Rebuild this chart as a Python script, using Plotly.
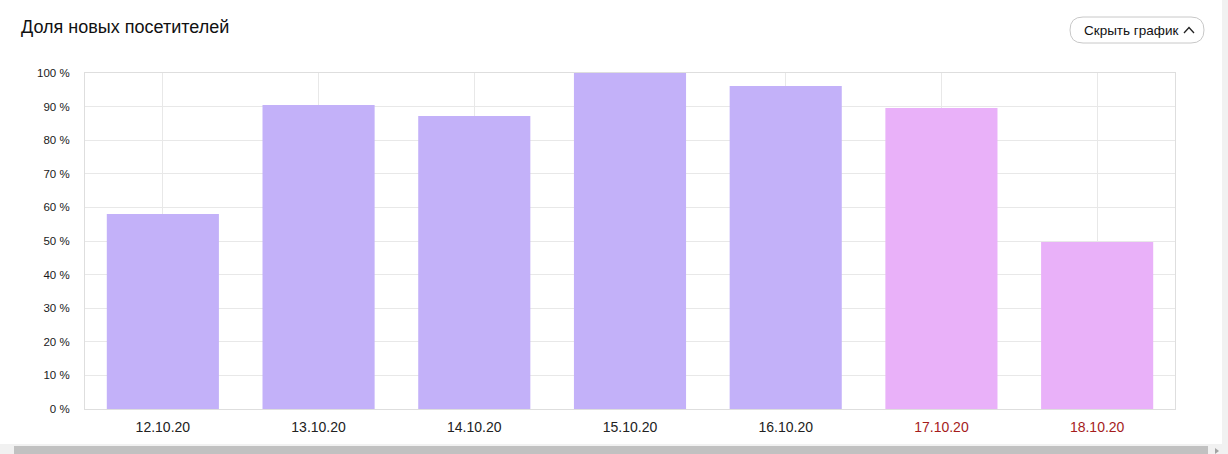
import plotly.graph_objects as go

# ---- data ----
dates = ["12.10.20", "13.10.20", "14.10.20", "15.10.20", "16.10.20", "17.10.20", "18.10.20"]
share_new = [58.0, 90.5, 87.2, 100.0, 96.1, 89.6, 49.7]
is_weekend = [False, False, False, False, False, True, True]
y_ticks = [0, 10, 20, 30, 40, 50, 60, 70, 80, 90, 100]
y_tick_labels = [f"{v} %" for v in y_ticks]

W, H = 1228, 454
L, R, T, B = 85, 1175, 73, 409

def px(x):
    return (x - L) / (R - L)

def py(y):
    return (B - y) / (B - T)

bar_colors = ["#e9b1f9" if w else "#c3b1f9" for w in is_weekend]
tick_text = [
    f'<span style="color:#a51c1c">{d}</span>' if w else d
    for d, w in zip(dates, is_weekend)
]

fig = go.Figure()
fig.add_trace(go.Bar(
    x=dates, y=share_new, marker=dict(color=bar_colors, line=dict(width=0)),
    hoverinfo="skip",
))

shapes = []
# right gray strip
shapes.append(dict(type="rect", xref="paper", yref="paper",
                   x0=px(1222), x1=px(1228), y0=py(454), y1=py(0),
                   fillcolor="#f1f1f1", line=dict(width=0), layer="below"))
# scrollbar track
shapes.append(dict(type="rect", xref="paper", yref="paper",
                   x0=px(0), x1=px(1228), y0=py(454), y1=py(444),
                   fillcolor="#f1f1f1", line=dict(width=0)))
# scrollbar thumb
shapes.append(dict(type="rect", xref="paper", yref="paper",
                   x0=px(14), x1=px(1208), y0=py(454), y1=py(446),
                   fillcolor="#c1c1c1", line=dict(width=0)))
# scroll arrow
shapes.append(dict(type="path", xref="paper", yref="paper",
                   path=f"M {px(1215)} {py(448)} L {px(1219)} {py(451)} L {px(1215)} {py(454)} Z",
                   fillcolor="#a3a3a3", line=dict(width=0)))

# rounded button
x0, x1, y0, y1, r = 1070, 1204, 17, 43, 13
p = (f"M {px(x0 + r)} {py(y0)} L {px(x1 - r)} {py(y0)} "
     f"Q {px(x1)} {py(y0)} {px(x1)} {py(y0 + r)} "
     f"Q {px(x1)} {py(y1)} {px(x1 - r)} {py(y1)} "
     f"L {px(x0 + r)} {py(y1)} "
     f"Q {px(x0)} {py(y1)} {px(x0)} {py(y1 - r)} "
     f"Q {px(x0)} {py(y0)} {px(x0 + r)} {py(y0)} Z")
shapes.append(dict(type="path", xref="paper", yref="paper", path=p,
                   fillcolor="white", line=dict(color="#c8c8c8", width=1)))
# chevron
shapes.append(dict(type="path", xref="paper", yref="paper",
                   path=f"M {px(1184)} {py(33)} L {px(1189)} {py(27.5)} L {px(1194)} {py(33)}",
                   line=dict(color="#222222", width=1.3)))

annotations = [
    dict(text="Доля новых посетителей", xref="paper", yref="paper",
         x=px(19), y=py(27), xanchor="left", yanchor="middle", showarrow=False,
         font=dict(family="Liberation Sans, Arial", size=18, color="#111111")),
    dict(text="Скрыть график", xref="paper", yref="paper",
         x=px(1082), y=py(30.5), xanchor="left", yanchor="middle", showarrow=False,
         font=dict(family="Liberation Sans, Arial", size=13.5, color="#111111")),
]

fig.update_layout(
    width=W, height=H,
    margin=dict(l=L, r=W - R, t=T, b=H - B, pad=0),
    paper_bgcolor="white", plot_bgcolor="white",
    showlegend=False, bargap=0.28,
    shapes=shapes, annotations=annotations,
    font=dict(family="Liberation Sans, Arial", color="#222222"),
    xaxis=dict(
        type="category", tickvals=dates, ticktext=tick_text,
        showgrid=True, gridcolor="#e8e8e8", gridwidth=1,
        showline=True, linecolor="#dedede", mirror=True,
        ticks="", tickfont=dict(size=14, color="#222222"),
        ticklabelstandoff=5, zeroline=False, fixedrange=True,
    ),
    yaxis=dict(
        range=[0, 100], tickvals=y_ticks, ticktext=y_tick_labels,
        showgrid=True, gridcolor="#e8e8e8", gridwidth=1,
        showline=True, linecolor="#dedede", mirror=True,
        ticks="", tickfont=dict(size=11.5, color="#1a1a1a"),
        ticklabelstandoff=12, zeroline=False, fixedrange=True,
    ),
)

fig.write_html(
    "out.html", config=dict(displayModeBar=False),
    post_script="document.body.style.margin='0px';document.body.style.overflow='hidden';",
)
